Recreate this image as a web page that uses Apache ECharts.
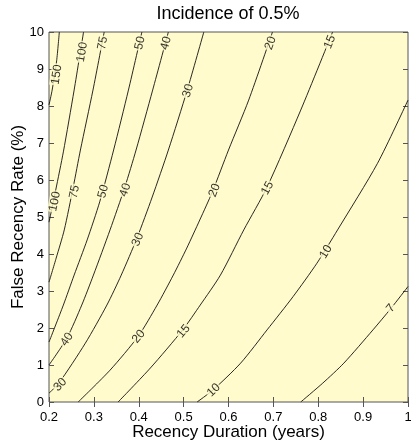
<!DOCTYPE html>
<html>
<head>
<meta charset="utf-8">
<script src="https://cdn.jsdelivr.net/npm/echarts@6/dist/echarts.min.js"></script>
<style>
html,body{margin:0;padding:0;background:#fff;}
#chart{width:411px;height:442px;}
</style>
</head>
<body>
<div id="chart"></div>
<script>
// ---- data ----
const titleText = 'Incidence of 0.5%';
const xName = 'Recency Duration (years)';
const yName = 'False Recency Rate (%)';
const xTicks = [0.2, 0.3, 0.4, 0.5, 0.6, 0.7, 0.8, 0.9, 1];
const yTicks = [0, 1, 2, 3, 4, 5, 6, 7, 8, 9, 10];

const levels = [150, 100, 75, 50, 40, 30, 20, 15, 10, 7];
const contour150 = [[0.200,8.03],[0.207,8.43],[0.217,9.22],[0.223,10.0]];
const contour100 = [[0.200,4.86],[0.208,5.32],[0.215,5.73],[0.232,6.76],[0.256,8.43],[0.277,10.0]];
const contour75  = [[0.200,3.24],[0.216,3.89],[0.234,4.65],[0.254,5.81],[0.270,6.81],[0.298,8.43],[0.323,10.0]];
const contour50  = [[0.200,1.62],[0.232,2.62],[0.256,3.43],[0.285,4.38],[0.313,5.41],[0.344,6.81],[0.377,8.43],[0.407,10.0]];
const contour40  = [[0.200,1.00],[0.240,1.73],[0.273,2.62],[0.299,3.43],[0.336,4.65],[0.369,5.81],[0.394,6.81],[0.431,8.43],[0.466,10.0]];
const contour30  = [[0.200,0.24],[0.222,0.51],[0.281,1.59],[0.329,2.62],[0.361,3.43],[0.396,4.43],[0.430,5.54],[0.466,6.81],[0.508,8.43],[0.545,10.0]];
const contour20  = [[0.265,0.00],[0.336,0.86],[0.399,1.78],[0.441,2.62],[0.477,3.43],[0.507,4.16],[0.536,4.92],[0.564,5.68],[0.600,6.81],[0.645,8.16],[0.698,10.0]];
const contour15  = [[0.354,0.00],[0.426,0.92],[0.498,1.95],[0.537,2.62],[0.582,3.43],[0.634,4.65],[0.686,5.81],[0.761,7.89],[0.832,10.0]];
const contour10  = [[0.530,0.00],[0.565,0.32],[0.627,1.05],[0.686,1.95],[0.744,2.85],[0.797,3.75],[0.843,4.65],[0.932,6.45],[1.000,8.16]];
const contour7   = [[0.761,0.00],[0.810,0.51],[0.857,1.05],[0.922,1.95],[0.962,2.53],[1.000,3.12]];
const contours = [contour150, contour100, contour75, contour50, contour40, contour30, contour20, contour15, contour10, contour7];

// contour labels (level, x, y)
const labelLevel = [150, 100, 75, 50, 40, 30, 20, 15, 100, 75, 50, 40, 30, 20, 15, 40, 30, 20, 15, 10, 10, 7];
const labelX = [0.217, 0.274, 0.320, 0.403, 0.461, 0.510, 0.694, 0.826, 0.213, 0.257, 0.321, 0.370, 0.398, 0.569, 0.687, 0.240, 0.225, 0.400, 0.500, 0.567, 0.817, 0.962];
const labelY = [8.85, 9.46, 9.70, 9.70, 9.70, 8.41, 9.70, 9.73, 5.42, 5.68, 5.69, 5.73, 4.39, 5.72, 5.78, 1.69, 0.47, 1.77, 1.91, 0.32, 4.06, 2.53];

// ---- styling ----
const FONT = "'Liberation Sans', Arial, sans-serif";
const FILL = '#FFFBCC';
const AXC = '#555555';

const chart = echarts.init(document.getElementById('chart'), null, {renderer: 'canvas'});

const tickAxisCommon = {
  type: 'value',
  splitLine: {show: false},
  axisLine: {show: false},
  axisTick: {show: true, inside: true, length: 5, lineStyle: {color: AXC, width: 1}},
};

const lineSeries = contours.map((c, i) => ({
  type: 'line',
  name: String(levels[i]),
  data: c,
  xAxisIndex: 0, yAxisIndex: 0,
  showSymbol: false,
  symbol: 'none',
  smooth: 0.25,
  lineStyle: {color: '#111', width: 0.9},
  silent: true,
  z: 3,
  animation: false
}));

function labelData(rotations) {
  return labelLevel.map((lv, i) => ({
    value: [labelX[i], labelY[i]],
    label: {rotate: rotations ? rotations[i] : 0}
  }));
}

const labelSeries = {
  type: 'scatter',
  xAxisIndex: 0, yAxisIndex: 0,
  symbolSize: 1,
  itemStyle: {color: 'rgba(0,0,0,0)'},
  silent: true,
  z: 6,
  animation: false,
  label: {
    show: true,
    position: 'inside',
    formatter: p => String(labelLevel[p.dataIndex]),
    fontFamily: FONT,
    fontSize: 12,
    color: '#000',
    backgroundColor: FILL,
    padding: [0, 1]
  },
  data: labelData(null)
};

const option = {
  animation: false,
  backgroundColor: '#ffffff',
  grid: {left: 49, right: 3, top: 32, bottom: 40, show: true, backgroundColor: FILL, borderColor: AXC, borderWidth: 1,
         containLabel: false, outerBoundsMode: 'none'},
  graphic: [{
    type: 'text', x: 228, y: 14.5, silent: true,
    style: {text: titleText, fontFamily: FONT, fontSize: 18, fill: '#000', align: 'center', verticalAlign: 'middle'}
  }],
  xAxis: [
    Object.assign({}, tickAxisCommon, {
      position: 'bottom', min: xTicks[0], max: xTicks[xTicks.length - 1], interval: 0.1,
      axisLabel: {show: true, margin: 9, fontFamily: FONT, fontSize: 13, color: '#000',
        formatter: v => String(Math.round(v * 10) / 10)},
      name: xName, nameLocation: 'middle', nameGap: 22, nameMoveOverlap: false,
      nameTextStyle: {fontFamily: FONT, fontSize: 17, color: '#000', verticalAlign: 'top'}
    }),
    Object.assign({}, tickAxisCommon, {
      position: 'top', min: xTicks[0], max: xTicks[xTicks.length - 1], interval: 0.1,
      axisLabel: {show: false}
    })
  ],
  yAxis: [
    Object.assign({}, tickAxisCommon, {
      position: 'left', min: yTicks[0], max: yTicks[yTicks.length - 1], interval: 1,
      axisLabel: {show: true, margin: 5, fontFamily: FONT, fontSize: 13, color: '#000'},
      name: yName, nameLocation: 'middle', nameGap: 22, nameMoveOverlap: false,
      nameTextStyle: {fontFamily: FONT, fontSize: 17, color: '#000'}
    }),
    Object.assign({}, tickAxisCommon, {
      position: 'right', min: yTicks[0], max: yTicks[yTicks.length - 1], interval: 1,
      axisLabel: {show: false}
    })
  ],
  series: lineSeries.concat([labelSeries])
};

chart.setOption(option);

// rotate each contour label along its line (computed in pixel space)
const rotations = labelLevel.map((lv, i) => {
  const c = contours[levels.indexOf(lv)];
  const pts = c.map(p => chart.convertToPixel({xAxisIndex: 0, yAxisIndex: 0}, p));
  const q = chart.convertToPixel({xAxisIndex: 0, yAxisIndex: 0}, [labelX[i], labelY[i]]);
  let best = 0, bestD = Infinity;
  for (let k = 0; k < pts.length - 1; k++) {
    const a = pts[k], b = pts[k + 1];
    const dx = b[0] - a[0], dy = b[1] - a[1];
    const L2 = dx * dx + dy * dy || 1;
    let t = ((q[0] - a[0]) * dx + (q[1] - a[1]) * dy) / L2;
    t = Math.max(0, Math.min(1, t));
    const px = a[0] + t * dx, py = a[1] + t * dy;
    const d = (px - q[0]) ** 2 + (py - q[1]) ** 2;
    if (d < bestD) { bestD = d; best = k; }
  }
  const a = pts[best], b = pts[best + 1];
  return Math.atan2(a[1] - b[1], b[0] - a[0]) * 180 / Math.PI;
});

chart.setOption({series: lineSeries.concat([Object.assign({}, labelSeries, {data: labelData(rotations)})])});
</script>
</body>
</html>
